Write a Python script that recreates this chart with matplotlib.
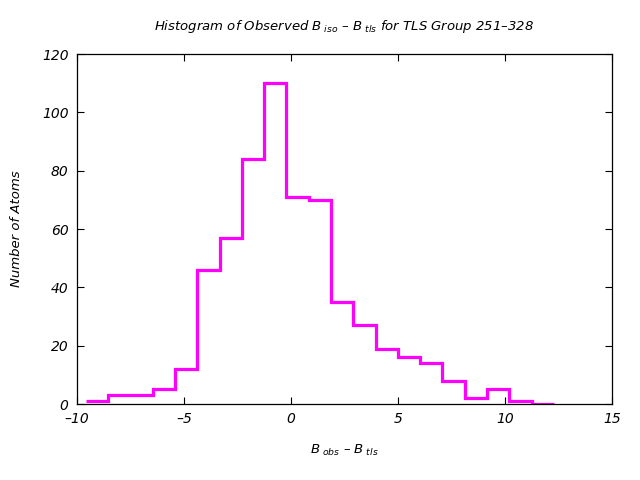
import matplotlib
matplotlib.use("Agg")
import matplotlib.pyplot as plt

# bin edges and counts
bin_edges = [-9.58, -8.54, -7.50, -6.46, -5.42, -4.38, -3.33, -2.29, -1.25, -0.21,
             0.83, 1.87, 2.92, 3.96, 5.00, 6.04, 7.08, 8.12, 9.17, 10.21, 11.25, 12.29]
counts = [1, 3, 3, 5, 12, 46, 57, 84, 110, 71, 70, 35, 27, 19, 16, 14, 8, 2, 5, 1, 0]

x_ticks = [-10, -5, 0, 5, 10, 15]
x_tick_labels = ['\u201310', '\u20135', '0', '5', '10', '15']
y_ticks = [0, 20, 40, 60, 80, 100, 120]

plt.rcParams['font.family'] = 'DejaVu Sans'
plt.rcParams['mathtext.fontset'] = 'dejavusans'

fig = plt.figure(figsize=(6.4, 4.8), dpi=100)
ax = fig.add_axes([0.1203, 0.1583, 0.8359, 0.7292])

ax.stairs(counts, bin_edges, color='#ff00ff', linewidth=2.3, baseline=None)

ax.set_xlim(-10, 15)
ax.set_ylim(0, 120)
ax.set_xticks(x_ticks)
ax.set_yticks(y_ticks)
ax.set_xticklabels(x_tick_labels, fontstyle='italic', fontsize=10)
ax.set_yticklabels([str(v) for v in y_ticks], fontstyle='italic', fontsize=10)
ax.tick_params(direction='in', length=5, width=0.8, top=True, right=True, pad=6)
for s in ax.spines.values():
    s.set_linewidth(0.9)

ax.set_title('Histogram of Observed $B_{\\ iso}$ \u2013 $B_{\\ tls}$ for TLS Group 251\u2013328',
             fontstyle='italic', fontsize=9.5, pad=17)
ax.set_xlabel('$B_{\\ obs}$ \u2013 $B_{\\ tls}$', fontstyle='italic', fontsize=9.5, labelpad=12)
ax.set_ylabel('Number of Atoms', fontstyle='italic', fontsize=9.5, labelpad=14)

fig.savefig('out.png', dpi=100)
